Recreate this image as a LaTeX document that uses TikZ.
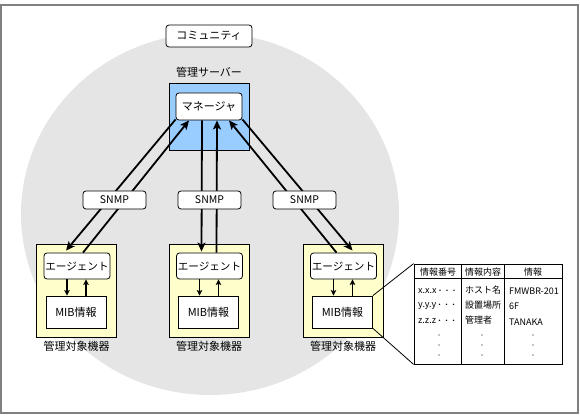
\documentclass[tikz,border=0pt]{standalone}
\usepackage{fontspec}
\setmainfont{Noto Sans CJK JP}
\usetikzlibrary{arrows.meta}
\definecolor{srvblue}{RGB}{153,204,255}
\definecolor{devyellow}{RGB}{255,255,204}
\definecolor{circgray}{RGB}{229,229,229}
\definecolor{framegray}{RGB}{128,128,128}
\begin{document}
\begin{tikzpicture}[x=1pt,y=-1pt,
  mainfont/.style={font=\fontsize{11}{13}\selectfont},
  rbox/.style={draw,fill=white,rounded corners=3pt,inner sep=0pt,line width=0.8pt,mainfont},
  sqbox/.style={draw,fill=white,inner sep=0pt,line width=0.8pt,mainfont},
  devbox/.style={draw,fill=devyellow,inner sep=0pt,line width=0.8pt,minimum width=80pt,minimum height=93pt},
  agbox/.style={rbox,minimum width=66pt,minimum height=26pt,font=\fontsize{10.6}{12}\selectfont},
  mibbox/.style={sqbox,minimum width=60pt,minimum height=32pt},
  snmpbox/.style={rbox,minimum width=63pt,minimum height=18pt,font=\fontsize{10.5}{12}\selectfont},
  lbl/.style={inner sep=0pt,mainfont},
  bigarrow/.style={line width=1.8pt,-{Stealth[length=9pt,width=8pt,inset=2pt]}},
  smallarrow/.style={line width=1.1pt,-{Stealth[length=5.5pt,width=5.5pt,inset=1pt]}},
  tabtxt/.style={inner sep=0pt,font=\fontsize{9}{10}\selectfont},
]
\useasboundingbox (0,0) rectangle (580,419);
% frame and community area
\draw[framegray,line width=2pt] (1,5) rectangle (578,413);
\fill[circgray] (210,214) ellipse [x radius=189pt, y radius=181pt];

\node[rbox,minimum width=86pt,minimum height=22pt] (comm) at (209,36) {コミュニティ};

% server
\node[lbl] (srvlbl) at (209,72) {管理サーバー};
\node[draw,fill=srvblue,inner sep=0pt,line width=0.8pt,minimum width=80pt,minimum height=67pt] (srv) at (209,116.5) {};
\node[rbox,minimum width=66pt,minimum height=27pt] (mgr) at (209,106.5) {マネージャ};

% devices
\foreach \i/\x in {1/76.5,2/209,3/343}{
  \node[devbox] (dev\i) at (\x,290.5) {};
  \node[agbox] (ag\i) at (\x+0.5,266) {エージェント};
  \node[mibbox] (mib\i) at (\x-0.5,312) {MIB情報};
  \node[lbl] (devlbl\i) at (\x,346) {管理対象機器};
  \draw[smallarrow] ([xshift=-10pt]ag\i.south) -- ([xshift=-10pt]ag\i.south |- mib\i.north);
  \draw[smallarrow] ([xshift=9pt]ag\i.south |- mib\i.north) -- ([xshift=9pt]ag\i.south);
}

% SNMP arrows
\draw[bigarrow] ([yshift=1pt]mgr.south west) -- ([xshift=-11pt,yshift=2pt]ag1.north);
\draw[bigarrow] ([xshift=6pt]ag1.north) -- ([xshift=-20pt]mgr.south);
\draw[bigarrow] ([xshift=-7pt]mgr.south) -- ([xshift=-8pt,yshift=1pt]ag2.north);
\draw[bigarrow] ([xshift=7pt]ag2.north) -- ([xshift=8pt]mgr.south);
\draw[bigarrow] ([yshift=1pt]mgr.south east) -- ([xshift=9pt,yshift=2pt]ag3.north);
\draw[bigarrow] ([xshift=-7pt]ag3.north) -- ([xshift=20pt]mgr.south);

\node[snmpbox] (snmp1) at (114.5,200) {SNMP};
\node[snmpbox] (snmp2) at (209.5,200) {SNMP};
\node[snmpbox] (snmp3) at (304.5,200) {SNMP};

% MIB table
\node[draw,fill=white,inner sep=0pt,line width=0.8pt,minimum width=148pt,minimum height=100pt] (tab) at (488,314) {};
\draw[line width=0.8pt] (mib3.north east) -- (tab.north west);
\draw[line width=0.8pt] (mib3.south east) -- (tab.south west);
\draw[line width=0.8pt] ([yshift=-15pt]tab.north west) -- ([yshift=-15pt]tab.north east);
\draw[line width=0.8pt] ([xshift=47.5pt]tab.north west) -- ([xshift=47.5pt]tab.south west);
\draw[line width=0.8pt] ([xshift=91pt]tab.north west) -- ([xshift=91pt]tab.south west);

\node[tabtxt] (h1) at (438,272) {情報番号};
\node[tabtxt] (h2) at (483,272) {情報内容};
\node[tabtxt] (h3) at (533,272) {情報};

\node[tabtxt,anchor=west] (r1a) at (418,291) {x.x.x{\fontsize{7}{8}\selectfont ・・・}};
\node[tabtxt,anchor=west] (r2a) at (418,306) {y.y.y{\fontsize{7}{8}\selectfont ・・・}};
\node[tabtxt,anchor=west] (r3a) at (418,321) {z.z.z{\fontsize{7}{8}\selectfont ・・・}};
\node[tabtxt,anchor=west] (r1b) at (465,290) {ホスト名};
\node[tabtxt,anchor=west] (r2b) at (465,305) {設置場所};
\node[tabtxt,anchor=west] (r3b) at (465,320) {管理者};
\node[tabtxt,anchor=west] (r1c) at (509,291) {FMWBR-201};
\node[tabtxt,anchor=west] (r2c) at (509,306) {6F};
\node[tabtxt,anchor=west] (r3c) at (509,322) {TANAKA};

\foreach \c/\x in {a/439,b/482,c/533}{
  \foreach \j/\y in {1/335,2/345,3/355}{
    \fill (\x,\y) circle [radius=0.7pt];
  }
}
\end{tikzpicture}
\end{document}
